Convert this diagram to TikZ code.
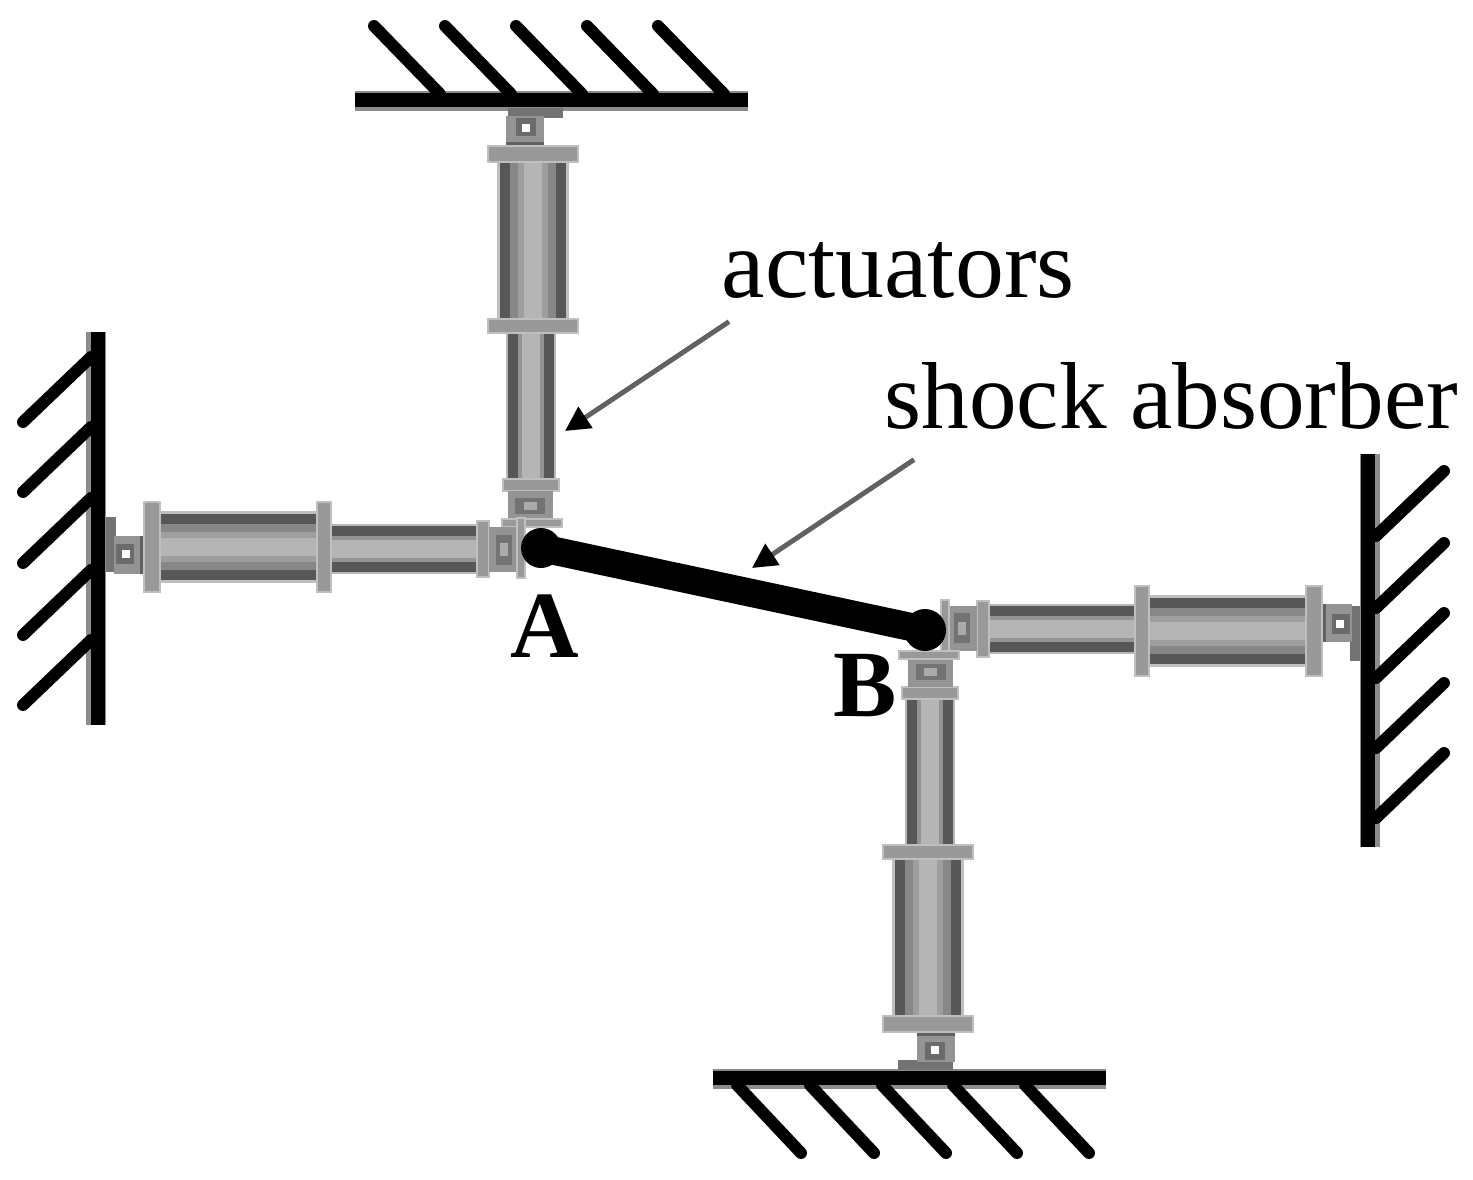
\documentclass[tikz,border=0pt]{standalone}
\usepackage{fontspec}
\setmainfont{Liberation Serif}
\usetikzlibrary{arrows.meta}

\tikzset{
    wallbar/.style={line width=4.2pt},
    wallshade/.style={draw=black!45, line width=5.6pt},
    hatch/.style={line width=3.4pt, line cap=round},
    pointer/.style={draw=black!62, line width=1.4pt, -{Triangle[length=7pt, width=7pt, color=black]}},
    caption/.style={inner xsep=0pt, inner ysep=0.2cm, anchor=base west},
    jointlabel/.style={font=\fontsize{27}{30}\selectfont\bfseries, inner sep=0pt},
    flange/.style={fill=black!40, draw=black!25, line width=0.6pt},
    actuator/.pic={
        \fill[black!55] (8, -30) rectangle (18, 25);
        \fill[black!42] (16, -11) rectangle (46, 27);
        \fill[black!58] (18, -3) rectangle (36, 17);
        \fill[black!62] (42, -11) rectangle (47, 27);
        \fill[white] (24, 3) rectangle (32, 11);
        \foreach \hw/\tone in {36/25,33/66,23/47,15/38,9/29}
            \fill[black!\tone] (60, -\hw) rectangle (222, \hw);
        \foreach \hw/\tone in {25/28,23/66,13/42,9/29}
            \fill[black!\tone] (222, 2-\hw) rectangle (382, 2+\hw);
        \filldraw[flange] (46, -45) rectangle (62, 45);
        \filldraw[flange] (219, -45) rectangle (233, 45);
        \filldraw[flange] (379, -26) rectangle (391, 30);
        \fill[black!42] (391, -20) rectangle (420, 25);
        \fill[black!55] (398, -12) rectangle (414, 18);
        \fill[black!33] (402, -4) rectangle (410, 9);
        \filldraw[flange] (419, -29) rectangle (427, 31);
    }
}

\begin{document}
\begin{tikzpicture}[x=0.01cm, y=-0.01cm]
    \useasboundingbox (0, 0) rectangle (1473, 1179);

    \draw[wallshade] (355, 101) -- (748, 101);
    \draw[wallbar] (355, 100) -- (748, 100);
    \foreach \hx in {374, 445, 516, 587, 658}
        \draw[hatch] (\hx, 26) -- ++(66, 68);
    \draw[wallshade] (96, 332) -- (96, 725);
    \draw[wallbar] (98, 332) -- (98, 725);
    \foreach \hy in {422, 492, 563, 635, 705}
        \draw[hatch] (23, \hy) -- ++(68, -65);
    \draw[wallshade] (1370, 454) -- (1370, 847);
    \draw[wallbar] (1368, 454) -- (1368, 847);
    \foreach \hy in {536, 608, 678, 748, 818}
        \draw[hatch] (1376, \hy) -- ++(68, -65);
    \draw[wallshade] (713, 1079) -- (1106, 1079);
    \draw[wallbar] (713, 1078) -- (1106, 1078);
    \foreach \hx in {737, 810, 882, 953, 1025}
        \draw[hatch] (\hx, 1085) -- ++(64, 68);

    \pic[rotate=-90] at (533, 100) {actuator};
    \pic[rotate=0] at (98, 547) {actuator};
    \pic[rotate=180] at (1368, 631) {actuator};
    \pic[rotate=90] at (928, 1078) {actuator};

    \coordinate (A) at (541, 548);
    \coordinate (B) at (925, 630);
    \draw[line width=8pt] (A) -- (B);
    \fill (A) circle (20);
    \fill (B) circle (21);

    \node[jointlabel] (labelA) at (545, 626) {A};
    \node[jointlabel] (labelB) at (865, 686) {B};

    \node[caption, font=\fontsize{27.8}{30}\selectfont] (actuators) at (721, 297) {actuators};
    \node[caption, font=\fontsize{27.05}{30}\selectfont] (shock) at (884, 428) {shock absorber};
    \coordinate (actuatorsTip) at (565, 431);
    \coordinate (shockTip) at (752, 568);
    \draw[pointer] ([xshift=0.08cm, yshift=-0.03cm]actuators.south west) -- (actuatorsTip);
    \draw[pointer] ([xshift=0.3cm, yshift=-0.1cm]shock.south west) -- (shockTip);
\end{tikzpicture}
\end{document}
